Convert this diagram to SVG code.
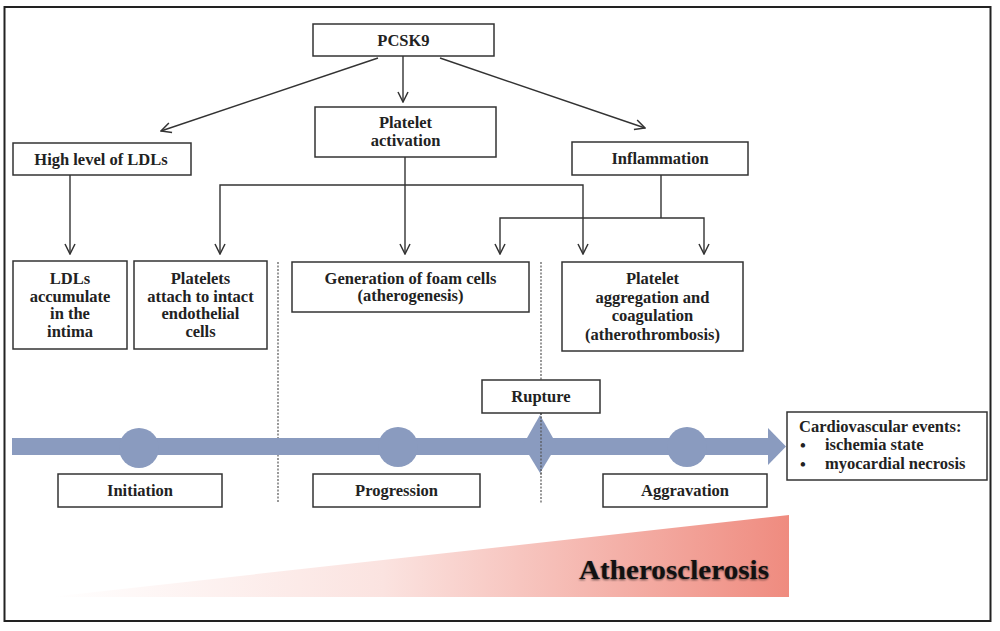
<svg xmlns="http://www.w3.org/2000/svg" width="1000" height="631" viewBox="0 0 1000 631">
<defs>
<marker id="arr" viewBox="0 0 12 12" refX="11" refY="6" markerWidth="12" markerHeight="12" markerUnits="userSpaceOnUse" orient="auto">
<path d="M1,1 L11,6 L1,11" fill="none" stroke="#333" stroke-width="1.5"/>
</marker>
<linearGradient id="red" x1="50" y1="0" x2="790" y2="0" gradientUnits="userSpaceOnUse">
<stop offset="0" stop-color="#ffffff"/>
<stop offset="0.45" stop-color="#fbe3e0"/>
<stop offset="1" stop-color="#ef8b7f"/>
</linearGradient>
<filter id="sh" x="-5%" y="-20%" width="110%" height="140%">
<feGaussianBlur stdDeviation="0.8"/>
</filter>
</defs>
<style>
.box{fill:#fff;stroke:#333;stroke-width:1.5}
.t{font-family:"Liberation Serif","Times New Roman",serif;font-weight:bold;font-size:16.5px;fill:#222;text-anchor:middle}
.tl{font-family:"Liberation Serif","Times New Roman",serif;font-weight:bold;font-size:16.5px;fill:#222}
.c{fill:none;stroke:#333;stroke-width:1.4}
.a{marker-end:url(#arr)}
.dot{fill:none;stroke:#555;stroke-width:1.2;stroke-dasharray:2,1.5}
.tb{fill:#8a9bbf}
</style>
<rect width="1000" height="631" fill="#fff"/>
<rect x="4.5" y="7" width="986" height="614" fill="none" stroke="#222" stroke-width="2"/>

<g id="atherosclerosis">
<polygon points="50,597 789,515 789,597" fill="url(#red)"/>
<text x="674" y="580" font-family="'Liberation Serif','Times New Roman',serif" font-weight="bold" font-size="28" text-anchor="middle" textLength="190" lengthAdjust="spacingAndGlyphs" fill="#000" filter="url(#sh)" opacity="0.6">Atherosclerosis</text>
<text x="674" y="579" font-family="'Liberation Serif','Times New Roman',serif" font-weight="bold" font-size="28" text-anchor="middle" textLength="190" lengthAdjust="spacingAndGlyphs" fill="#111">Atherosclerosis</text>
</g>

<g id="dividers">
<line class="dot" x1="278" y1="262" x2="278" y2="502"/>
<line class="dot" x1="541" y1="262" x2="541" y2="380"/>
<line class="dot" x1="541" y1="413" x2="541" y2="503"/>
</g>

<g id="timeline">
<rect class="tb" x="12" y="438" width="757" height="17"/>
<polygon class="tb" points="768,428 786,446.5 768,465"/>
<circle class="tb" cx="139" cy="448" r="20"/>
<circle class="tb" cx="398" cy="447" r="20"/>
<circle class="tb" cx="687" cy="447" r="20"/>
<polygon class="tb" points="540,415 557,445 540,473 523,445"/>
<line class="dot" x1="541" y1="413" x2="541" y2="475" stroke="#445"/>
</g>

<g id="connectors">
<line class="c a" x1="378" y1="58" x2="161" y2="131"/>
<line class="c a" x1="403" y1="56" x2="403" y2="102"/>
<line class="c a" x1="440" y1="58" x2="645" y2="128"/>
<line class="c a" x1="70" y1="175" x2="70" y2="254"/>
<line class="c a" x1="405" y1="157" x2="405" y2="254"/>
<polyline class="c a" points="405,185 220,185 220,254"/>
<polyline class="c a" points="405,185 583,185 583,254"/>
<line class="c" x1="661" y1="175" x2="661" y2="218"/>
<polyline class="c a" points="661,218 500,218 500,254"/>
<polyline class="c a" points="661,218 704,218 704,254"/>
</g>

<g id="pcsk9">
<rect class="box" x="313" y="24" width="181" height="32"/>
<text class="t" x="403.5" y="46">PCSK9</text>
</g>
<g id="platelet-activation">
<rect class="box" x="315" y="107" width="181" height="50"/>
<text class="t" x="405.5" y="128">Platelet</text>
<text class="t" x="405.5" y="146">activation</text>
</g>
<g id="high-ldl">
<rect class="box" x="13" y="143" width="178" height="32"/>
<text class="t" x="101" y="165">High level of LDLs</text>
</g>
<g id="inflammation">
<rect class="box" x="572" y="142" width="176" height="33"/>
<text class="t" x="660" y="164">Inflammation</text>
</g>
<g id="ldl-accumulate">
<rect class="box" x="13" y="261" width="114" height="88"/>
<text class="t" x="70" y="284">LDLs</text>
<text class="t" x="70" y="301.5">accumulate</text>
<text class="t" x="70" y="319">in the</text>
<text class="t" x="70" y="336.5">intima</text>
</g>
<g id="platelets-attach">
<rect class="box" x="134" y="261" width="133" height="88"/>
<text class="t" x="200.5" y="284">Platelets</text>
<text class="t" x="200.5" y="301.5">attach to intact</text>
<text class="t" x="200.5" y="319">endothelial</text>
<text class="t" x="200.5" y="336.5">cells</text>
</g>
<g id="foam-cells">
<rect class="box" x="292" y="262" width="237" height="50"/>
<text class="t" x="410.5" y="284">Generation of foam cells</text>
<text class="t" x="410.5" y="301">(atherogenesis)</text>
</g>
<g id="aggregation">
<rect class="box" x="562" y="262" width="181" height="89"/>
<text class="t" x="652.5" y="284">Platelet</text>
<text class="t" x="652.5" y="302.5">aggregation and</text>
<text class="t" x="652.5" y="321">coagulation</text>
<text class="t" x="652.5" y="339.5">(atherothrombosis)</text>
</g>
<g id="rupture">
<rect class="box" x="482" y="380" width="118" height="33"/>
<text class="t" x="541" y="402">Rupture</text>
</g>
<g id="initiation">
<rect class="box" x="58" y="474" width="164" height="33"/>
<text class="t" x="140" y="496">Initiation</text>
</g>
<g id="progression">
<rect class="box" x="313" y="474" width="167" height="33"/>
<text class="t" x="396.5" y="496">Progression</text>
</g>
<g id="aggravation">
<rect class="box" x="603" y="474" width="164" height="33"/>
<text class="t" x="685" y="496">Aggravation</text>
</g>
<g id="cardiovascular-events">
<rect class="box" x="787" y="412" width="200" height="68"/>
<text class="tl" x="799" y="432">Cardiovascular events:</text>
<text class="tl" x="800" y="451">•</text>
<text class="tl" x="825" y="450">ischemia state</text>
<text class="tl" x="800" y="470">•</text>
<text class="tl" x="825" y="469">myocardial necrosis</text>
</g>
</svg>
